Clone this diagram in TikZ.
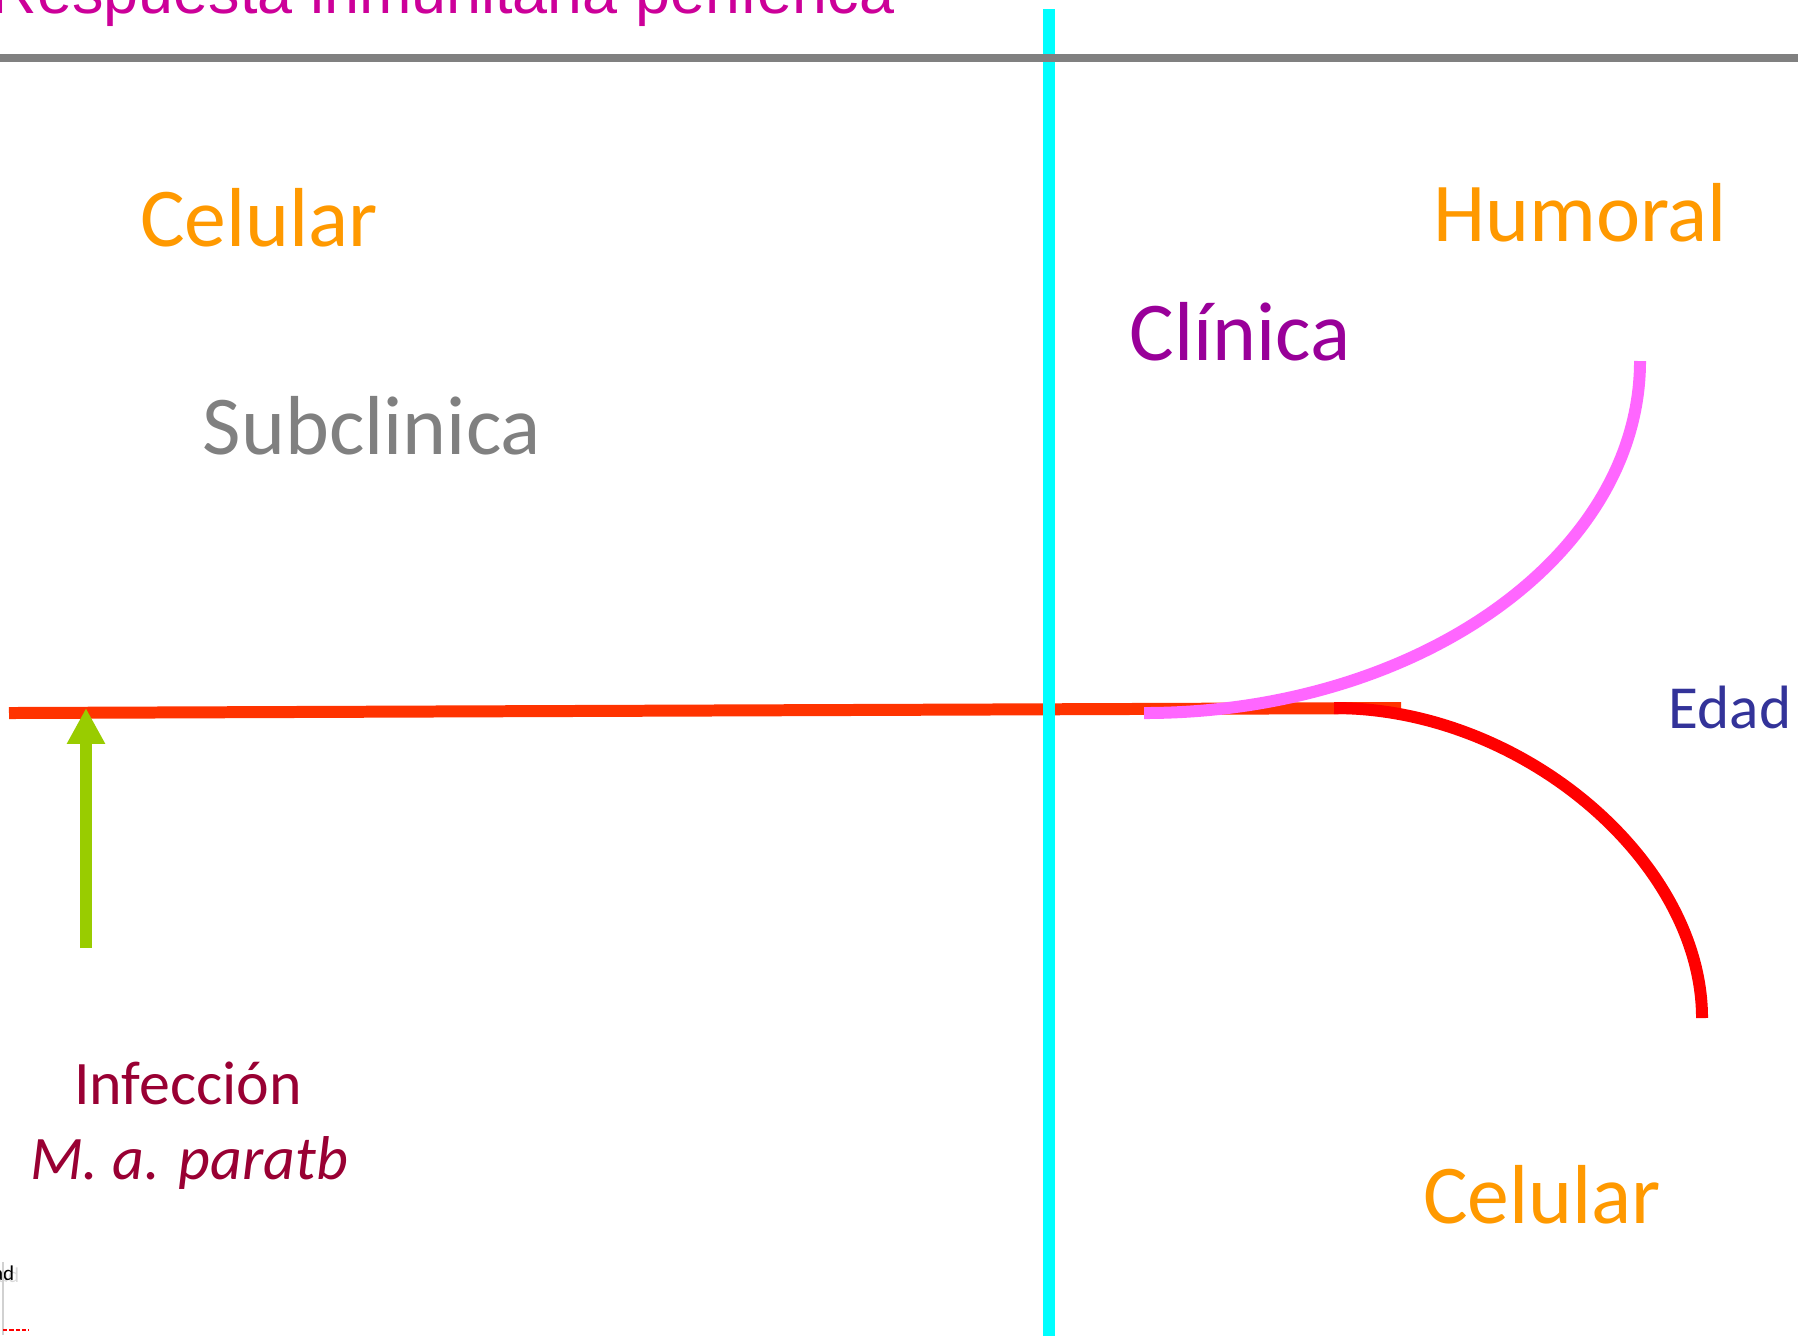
\documentclass[tikz,border=0pt]{standalone}
\usepackage{fontspec}
\setmainfont{Carlito}
\newfontfamily\titlefont{Liberation Sans}
\usepackage{xcolor}
\usetikzlibrary{arrows.meta,positioning}
\definecolor{titlepink}{HTML}{CC0099}
\definecolor{lblorange}{HTML}{FF9900}
\definecolor{lblpurple}{HTML}{990099}
\definecolor{lblblue}{HTML}{333399}
\definecolor{lblwine}{HTML}{990033}
\definecolor{axisred}{HTML}{FF3300}
\definecolor{curvepink}{HTML}{FF66FF}
\definecolor{arrowgreen}{HTML}{99CC00}
\definecolor{divcyan}{RGB}{0,255,255}

\begin{document}
\begin{tikzpicture}[x=0.01cm,y=-0.01cm,
    biglbl/.style={inner sep=0pt,anchor=base,font=\fontsize{23.8pt}{28pt}\selectfont},
    smalllbl/.style={inner sep=0pt,anchor=base,font=\fontsize{17.6pt}{21pt}\selectfont},
    thickline/.style={line width=3.41pt}]
    \useasboundingbox (0,0) rectangle (1798,1335);

    % Title (cut off at the top)
    \node[inner sep=0pt,anchor=base west,text=titlepink,
          font=\titlefont\fontsize{17.9pt}{22pt}\selectfont] (title) at (-9,13)
        {Respuesta inmunitaria periférica};

    % Time line
    \coordinate (tstart) at (9,713);
    \coordinate (tend) at (1401,708);
    \draw[axisred,thickline] (tstart) -- (tend);

    % Divider between subclinical and clinical phase
    \coordinate (divtop) at (1049,9);
    \coordinate (divbot) at (1049,1340);
    \draw[divcyan,thickline] (divtop) -- (divbot);

    % Header rule
    \coordinate (rulel) at (-5,58);
    \coordinate (ruler) at (1803,58);
    \draw[gray,line width=2.2pt] (rulel) -- (ruler);

    % Humoral response (rising)
    \coordinate (humstart) at (1144,713);
    \coordinate (humend) at (1640,361);
    \draw[curvepink,thickline] (humstart) .. controls (1418,713) and (1640,555) .. (humend);

    % Cellular response (falling)
    \coordinate (celstart) at (1334,708);
    \coordinate (celend) at (1702,1018);
    \draw[red,thickline] (celstart) .. controls (1524,708) and (1702,863) .. (celend);

    % Infection
    \coordinate (infbot) at (86,948);
    \coordinate (inftip) at (86,708);
    \draw[arrowgreen,thickline,-{Triangle[length=10.2pt,width=10.2pt]}] (infbot) -- (inftip);

    % Labels
    \node[biglbl,text=lblorange] (celtop) at (259,246) {Celular};
    \node[biglbl,text=gray] (subclin) at (372,454) {Subclinica};
    \node[biglbl,text=lblorange] (humoral) at (1580,241) {Humoral};
    \node[biglbl,text=lblpurple] (clinica) at (1240,360) {Clínica};
    \node[biglbl,text=lblorange] (celbot) at (1542,1223) {Celular};
    \node[inner sep=0pt,anchor=base west,text=lblblue,
          font=\fontsize{17.4pt}{21pt}\selectfont] (edad) at (1668,728) {Edad};
    \node[smalllbl,text=lblwine] (infec) at (188,1104) {Infección};
    \node[smalllbl,text=lblwine,font=\fontsize{17.6pt}{21pt}\selectfont\itshape] (mapara) at (189,1179) {M. a. paratb};

    % Remains of the next slide (bottom left)
    \node[inner sep=0pt,anchor=base east,text=black!15,
          font=\fontsize{6pt}{7pt}\selectfont] (edadgh) at (20,1282) {Edad};
    \node[inner sep=0pt,anchor=base east,text=black,
          font=\fontsize{6pt}{7pt}\selectfont] (edadsm) at (15,1280) {Edad};
    \coordinate (ghtop) at (3,1262);
    \coordinate (ghbot) at (3,1335);
    \draw[black!18,line width=0.8pt] (ghtop) -- (ghbot);
    \coordinate (rdl) at (3,1330);
    \coordinate (rdr) at (29,1330);
    \draw[red,line width=0.8pt,dash pattern=on 1.2pt off 0.6pt] (rdl) -- (rdr);
\end{tikzpicture}
\end{document}
